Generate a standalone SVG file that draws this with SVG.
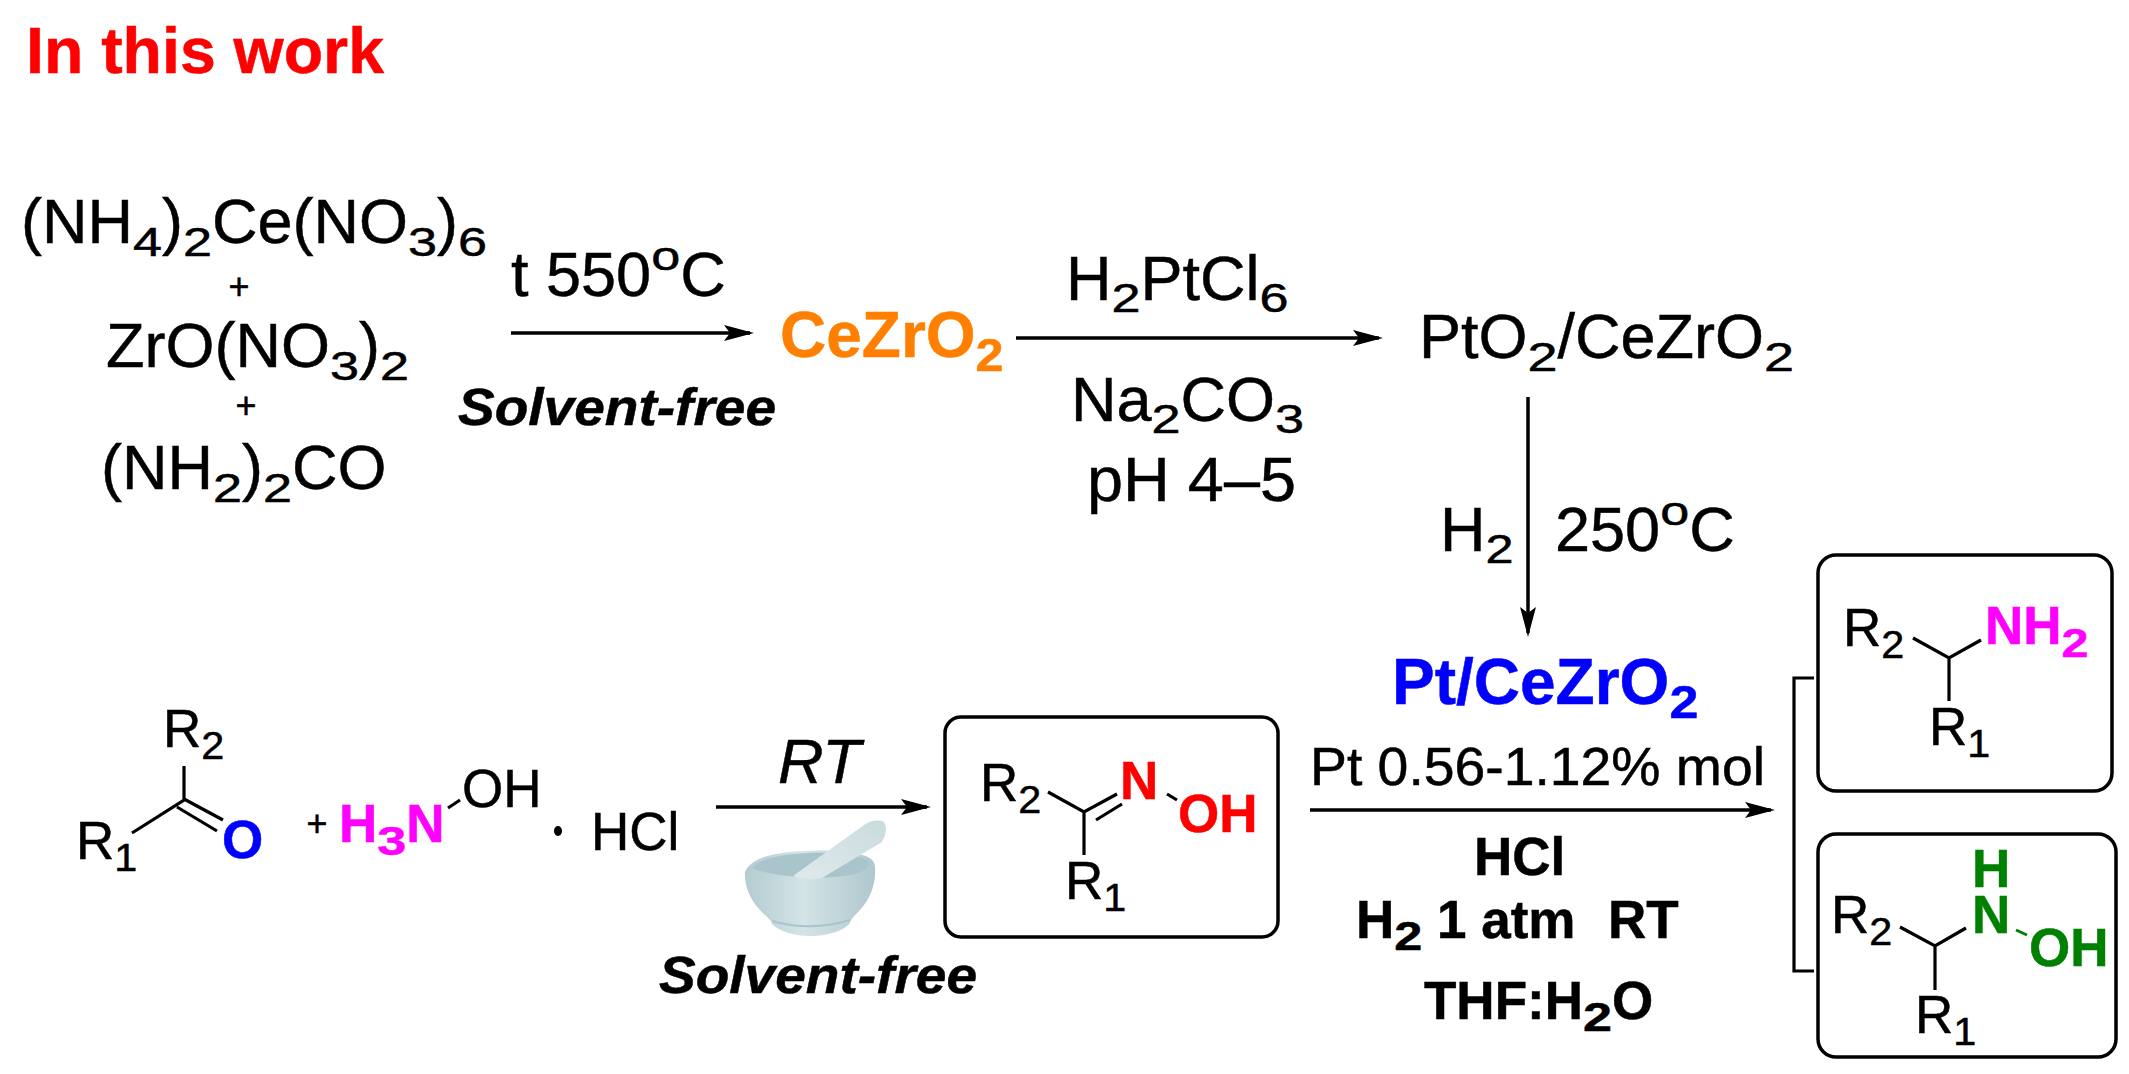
<svg xmlns="http://www.w3.org/2000/svg" width="2129" height="1074" viewBox="0 0 2129 1074">
<style>
text{font-family:"Liberation Sans",Arial,sans-serif;font-size:63px;fill:#000;stroke:#000;stroke-width:.5px}
.b{font-weight:bold;font-size:64px}
.i{font-style:italic}
.sm{font-size:53px}
.bs{font-size:53px;font-weight:bold}
.pl{font-size:36px}
.sf{font-size:52px;font-weight:bold;font-style:italic}
.sub{font-size:40px}
.ss{font-size:38px}
.sg{font-size:41px}
.sb{font-size:46px}
.line{fill:none;stroke:#000;stroke-width:3.2px}
.arrow{fill:none;stroke:#000;stroke-width:3.5px;marker-end:url(#head)}
.box{fill:#fff;stroke:#000;stroke-width:3.5px}
.red{fill:#f00;stroke:#f00}.blue{fill:#00f;stroke:#00f}.mag{fill:#f0f;stroke:#f0f}.grn{fill:#008000;stroke:#008000}.org{fill:#ff8000;stroke:#ff8000}
</style>
<defs>
<marker id="head" viewBox="0 0 30 16" refX="26" refY="8" markerWidth="30" markerHeight="16" markerUnits="userSpaceOnUse" orient="auto"><path d="M0,0 L30,8 L0,16 L6,8Z" fill="#000"/></marker>
<linearGradient id="bowl" x1="0" x2="1" y1="0" y2="0"><stop offset="0" stop-color="#b4cbd0"/><stop offset=".45" stop-color="#d4e4e7"/><stop offset="1" stop-color="#aec7cd"/></linearGradient>
<linearGradient id="pestle" x1="0" x2="1" y1="1" y2="0"><stop offset="0" stop-color="#dfeaec"/><stop offset="1" stop-color="#c9dbde"/></linearGradient>
<filter id="soft" x="-5%" y="-5%" width="110%" height="110%"><feGaussianBlur stdDeviation="0.7"/></filter>
</defs>

<g id="title"><text class="b red" x="26" y="73" textLength="358" lengthAdjust="spacingAndGlyphs">In this work</text></g>

<g id="connectors">
<line class="arrow" x1="511" y1="333" x2="750" y2="333"/>
<line class="arrow" x1="1016" y1="338" x2="1379" y2="338"/>
<line class="arrow" x1="1528" y1="397" x2="1528" y2="633"/>
<line class="arrow" x1="716" y1="807" x2="927" y2="807"/>
<line class="arrow" x1="1310" y1="810" x2="1771" y2="810"/>
<path class="line" d="M1814,678H1794V971H1814"/>
</g>

<g id="precursors">
<text x="21" y="243">(NH<tspan class="sub" dy="13" textLength="29" lengthAdjust="spacingAndGlyphs">4</tspan><tspan dy="-13">)</tspan><tspan class="sub" dy="13" textLength="29" lengthAdjust="spacingAndGlyphs">2</tspan><tspan dy="-13">Ce(NO</tspan><tspan class="sub" dy="13" textLength="29" lengthAdjust="spacingAndGlyphs">3</tspan><tspan dy="-13">)</tspan><tspan class="sub" dy="13" textLength="29" lengthAdjust="spacingAndGlyphs">6</tspan></text>
<text class="pl" x="239" y="299" text-anchor="middle">+</text>
<text x="106" y="367">ZrO(NO<tspan class="sub" dy="13" textLength="29" lengthAdjust="spacingAndGlyphs">3</tspan><tspan dy="-13">)</tspan><tspan class="sub" dy="13" textLength="29" lengthAdjust="spacingAndGlyphs">2</tspan></text>
<text class="pl" x="246" y="418" text-anchor="middle">+</text>
<text x="101" y="489">(NH<tspan class="sub" dy="13" textLength="29" lengthAdjust="spacingAndGlyphs">2</tspan><tspan dy="-13">)</tspan><tspan class="sub" dy="13" textLength="29" lengthAdjust="spacingAndGlyphs">2</tspan><tspan dy="-13">CO</tspan></text>
</g>

<g id="step1-labels">
<text x="511" y="296">t 550<tspan class="sub" dy="-26" textLength="29" lengthAdjust="spacingAndGlyphs">o</tspan><tspan dy="26">C</tspan></text>
<text class="sf" x="458" y="425" textLength="318" lengthAdjust="spacingAndGlyphs">Solvent-free</text>
</g>

<g id="cezro2"><text class="b org" x="780" y="357">CeZrO<tspan class="sb" dy="14" textLength="28" lengthAdjust="spacingAndGlyphs">2</tspan></text></g>

<g id="step2-labels">
<text x="1066" y="300">H<tspan class="sub" dy="12" textLength="29" lengthAdjust="spacingAndGlyphs">2</tspan><tspan dy="-12">PtCl</tspan><tspan class="sub" dy="12" textLength="29" lengthAdjust="spacingAndGlyphs">6</tspan></text>
<text x="1071" y="421">Na<tspan class="sub" dy="12" textLength="29" lengthAdjust="spacingAndGlyphs">2</tspan><tspan dy="-12">CO</tspan><tspan class="sub" dy="12" textLength="29" lengthAdjust="spacingAndGlyphs">3</tspan></text>
<text x="1087" y="501" textLength="209" lengthAdjust="spacingAndGlyphs">pH 4–5</text>
</g>

<g id="pto2"><text x="1419" y="358">PtO<tspan class="sub" dy="13" textLength="30" lengthAdjust="spacingAndGlyphs">2</tspan><tspan dy="-13">/CeZrO</tspan><tspan class="sub" dy="13" textLength="30" lengthAdjust="spacingAndGlyphs">2</tspan></text></g>

<g id="step3-labels">
<text x="1440" y="551">H<tspan class="sub" dy="12" textLength="28" lengthAdjust="spacingAndGlyphs">2</tspan></text>
<text x="1555" y="551">250<tspan class="sub" dy="-26" textLength="29" lengthAdjust="spacingAndGlyphs">o</tspan><tspan dy="26">C</tspan></text>
</g>

<g id="catalyst"><text class="b blue" x="1392" y="704">Pt/CeZrO<tspan class="sb" dy="14" textLength="29" lengthAdjust="spacingAndGlyphs">2</tspan></text></g>

<g id="step5-labels">
<text class="sm" x="1310" y="785" textLength="455" lengthAdjust="spacingAndGlyphs">Pt 0.56-1.12% mol</text>
<text class="bs" x="1474" y="875">HCl</text>
<text class="bs" x="1356" y="938">H<tspan class="sg" dy="12" textLength="28" lengthAdjust="spacingAndGlyphs">2</tspan><tspan x="1437" dy="-12">1 atm</tspan><tspan x="1608">RT</tspan></text>
<text class="bs" x="1424" y="1019">THF:H<tspan class="sg" dy="12" textLength="29" lengthAdjust="spacingAndGlyphs">2</tspan><tspan dy="-12">O</tspan></text>
</g>

<g id="ketone">
<text class="sm" x="163" y="747">R<tspan class="ss" dy="12" textLength="23" lengthAdjust="spacingAndGlyphs">2</tspan></text>
<path class="line" d="M184,766V800L132,833M184,799L223,820M177,807L217,831"/>
<text class="sm" x="76" y="859">R<tspan class="ss" dy="12" textLength="23" lengthAdjust="spacingAndGlyphs">1</tspan></text>
<text class="bs blue" x="222" y="858">O</text>
</g>

<g id="plus"><text class="pl" x="317" y="836" text-anchor="middle">+</text></g>

<g id="hydroxylamine">
<text class="bs mag" x="339" y="842">H<tspan class="sg" dy="13" textLength="29" lengthAdjust="spacingAndGlyphs">3</tspan><tspan dy="-13">N</tspan></text>
<path class="line" d="M448,808L460,800"/>
<text class="sm" x="462" y="807">OH</text>
<ellipse cx="558" cy="831" rx="4" ry="5" fill="#000"/>
<text class="sm" x="591" y="850">HCl</text>
</g>

<g id="step4-labels">
<text class="i" x="778" y="783">RT</text>
<text class="sf" x="659" y="993" textLength="318" lengthAdjust="spacingAndGlyphs">Solvent-free</text>
</g>

<g id="mortar" filter="url(#soft)">
<path d="M745,872C744,885 750,900 760,910C765,916 772,920 772,924C780,932 795,936 810,936C828,936 845,930 850,923C850,919 858,913 864,905C872,895 876,880 875,868C875,860 870,857 862,855C845,850 820,850 805,851C775,852 750,858 745,872Z" fill="url(#bowl)"/>
<path d="M772,921Q810,932 850,920" fill="none" stroke="#a9c4ca" stroke-width="2"/>
<path d="M752,868C760,858 785,854 808,853C830,852 855,854 868,861C871,866 866,872 850,875C820,880 775,878 752,868Z" fill="#a9c4ca"/>
<path d="M793,876L864,825Q875,818 884,822Q889,830 882,842L822,878Q805,881 793,876Z" fill="url(#pestle)"/>
</g>

<g id="oxime">
<rect class="box" x="945" y="717" width="333" height="220" rx="16"/>
<text class="sm" x="980" y="801">R<tspan class="ss" dy="12" textLength="23" lengthAdjust="spacingAndGlyphs">2</tspan></text>
<path class="line" d="M1048,792L1084,812L1117,794M1096,820L1122,804M1084,812V855M1167,794L1177,800"/>
<text class="bs red" x="1120" y="799">N</text>
<text class="bs red" x="1178" y="832">OH</text>
<text class="sm" x="1065" y="899">R<tspan class="ss" dy="12" textLength="23" lengthAdjust="spacingAndGlyphs">1</tspan></text>
</g>

<g id="amine">
<rect class="box" x="1818" y="555" width="294" height="236" rx="18"/>
<text class="sm" x="1843" y="646">R<tspan class="ss" dy="12" textLength="23" lengthAdjust="spacingAndGlyphs">2</tspan></text>
<path class="line" d="M1913,638L1949,658L1981,640M1949,658V701"/>
<text class="bs mag" x="1985" y="644">NH<tspan class="sg" dy="13" textLength="27" lengthAdjust="spacingAndGlyphs">2</tspan></text>
<text class="sm" x="1929" y="745">R<tspan class="ss" dy="12" textLength="23" lengthAdjust="spacingAndGlyphs">1</tspan></text>
</g>

<g id="n-hydroxylamine">
<rect class="box" x="1818" y="834" width="298" height="223" rx="18"/>
<text class="sm" x="1831" y="933">R<tspan class="ss" dy="12" textLength="23" lengthAdjust="spacingAndGlyphs">2</tspan></text>
<path class="line" d="M1900,927L1935,946L1966,928M1935,946V990"/>
<path d="M2016,930L2027,935" fill="none" stroke="#008000" stroke-width="3"/>
<text class="bs grn" x="1972" y="887">H</text>
<text class="bs grn" x="1972" y="933">N</text>
<text class="bs grn" x="2029" y="966">OH</text>
<text class="sm" x="1915" y="1033">R<tspan class="ss" dy="12" textLength="23" lengthAdjust="spacingAndGlyphs">1</tspan></text>
</g>
</svg>
